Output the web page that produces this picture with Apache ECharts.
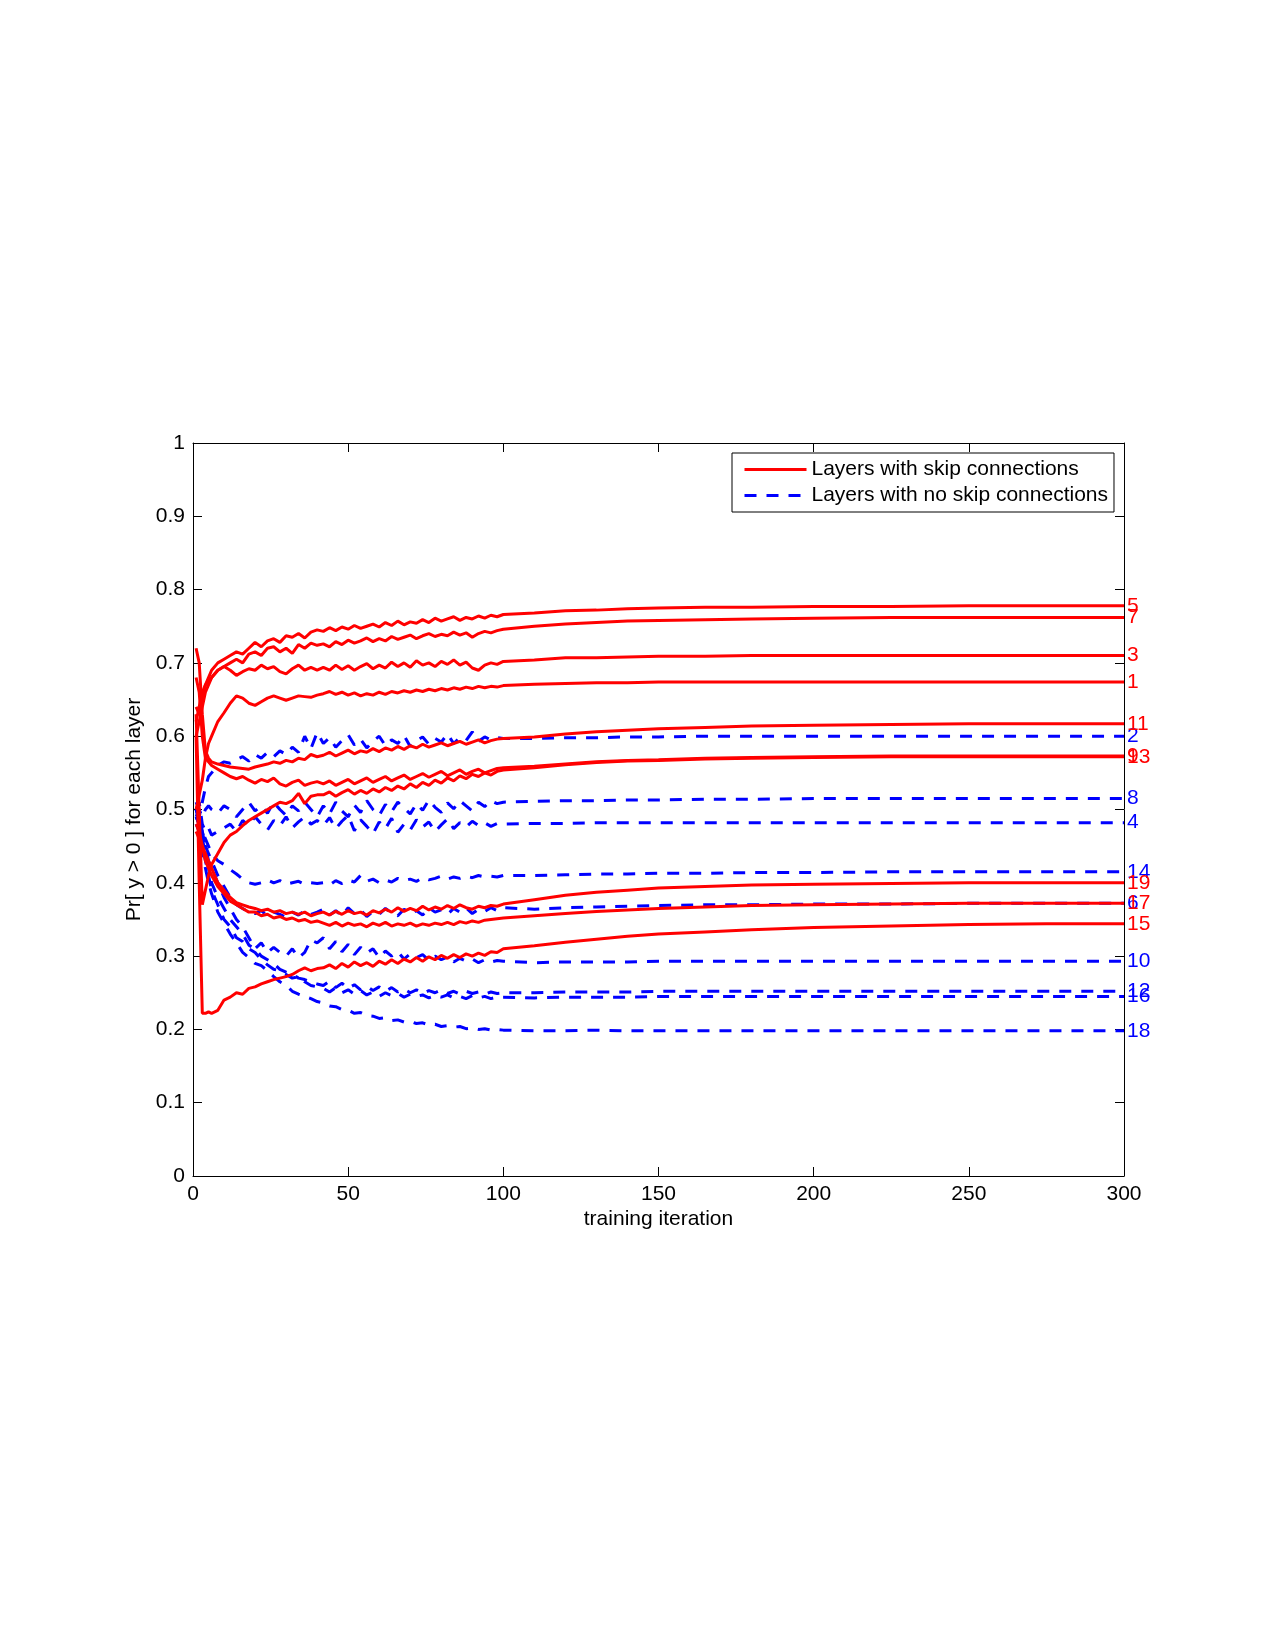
<!DOCTYPE html>
<html lang="en">
<head>
    <meta charset="utf-8">
    <title>Pr[y > 0] for each layer</title>
    <script src="https://cdn.jsdelivr.net/npm/echarts@6/dist/echarts.min.js"></script>
    <style>
        body { margin: 0; background: #fff; }
        #main { width: 1275px; height: 1650px; }
    </style>
</head>
<body>
    <div id="main"></div>

<script type="text/javascript">
    let iters = [1, 2, 3, 4, 5, 6,
        8, 10, 12, 14, 16, 18, 20, 22, 24, 26, 28, 30, 32, 34, 36, 38, 40,
        42, 44, 46, 48, 50, 52, 54, 56, 58, 60, 62, 64, 66, 68, 70,
        72, 74, 76, 78, 80, 82, 84, 86, 88, 90, 92, 94, 96, 98, 100,
        110, 120, 130, 140, 150, 165, 180, 200, 225, 250, 275, 300];

    // layers with skip connections (odd)
    let L1 = [0.50, 0.52, 0.54, 0.57, 0.59, 0.60,
        0.62, 0.632, 0.645, 0.655, 0.652, 0.645, 0.642, 0.647, 0.652, 0.655, 0.652, 0.649, 0.652, 0.655, 0.654, 0.653, 0.656,
        0.658, 0.661, 0.657, 0.66, 0.656, 0.659, 0.655, 0.658, 0.656, 0.66, 0.657, 0.661, 0.659, 0.662, 0.66,
        0.663, 0.661, 0.664, 0.662, 0.665, 0.663, 0.666, 0.664, 0.667, 0.665, 0.668, 0.666, 0.668, 0.667, 0.669,
        0.671, 0.672, 0.673, 0.673, 0.674, 0.674, 0.674, 0.674, 0.674, 0.674, 0.674, 0.674];
    let L3 = [0.60, 0.62, 0.64, 0.66, 0.67, 0.68,
        0.69, 0.695, 0.69, 0.683, 0.688, 0.692, 0.69, 0.697, 0.692, 0.695, 0.688, 0.685, 0.692, 0.697, 0.69, 0.694, 0.69,
        0.694, 0.69, 0.697, 0.691, 0.696, 0.69, 0.695, 0.699, 0.692, 0.697, 0.693, 0.701, 0.695, 0.70, 0.694,
        0.703, 0.697, 0.70, 0.695, 0.702, 0.698, 0.704, 0.697, 0.701, 0.693, 0.69, 0.697, 0.70, 0.698, 0.702,
        0.704, 0.707, 0.707, 0.708, 0.709, 0.709, 0.71, 0.71, 0.71, 0.71, 0.71, 0.71];
    let L5 = [0.64, 0.63, 0.65, 0.67, 0.68, 0.69,
        0.70, 0.705, 0.71, 0.715, 0.712, 0.72, 0.728, 0.722, 0.73, 0.733, 0.728, 0.737, 0.735, 0.74, 0.734, 0.742, 0.745,
        0.743, 0.748, 0.744, 0.749, 0.746, 0.751, 0.747, 0.75, 0.753, 0.749, 0.755, 0.751, 0.757, 0.752, 0.756,
        0.754, 0.759, 0.755, 0.761, 0.757, 0.76, 0.763, 0.758, 0.762, 0.76, 0.764, 0.761, 0.765, 0.763, 0.766,
        0.768, 0.771, 0.772, 0.774, 0.775, 0.776, 0.776, 0.777, 0.777, 0.778, 0.778, 0.778];
    let L7 = [0.62, 0.64, 0.66, 0.67, 0.675, 0.68,
        0.69, 0.695, 0.70, 0.705, 0.70, 0.712, 0.715, 0.71, 0.72, 0.722, 0.715, 0.72, 0.713, 0.725, 0.72, 0.727, 0.724,
        0.726, 0.722, 0.729, 0.725, 0.731, 0.727, 0.73, 0.734, 0.729, 0.733, 0.73, 0.736, 0.732, 0.735, 0.738,
        0.733, 0.737, 0.74, 0.736, 0.739, 0.737, 0.742, 0.738, 0.741, 0.735, 0.74, 0.743, 0.741, 0.744, 0.746,
        0.75, 0.753, 0.755, 0.757, 0.758, 0.759, 0.76, 0.761, 0.762, 0.762, 0.762, 0.762];
    let L9 = [0.68, 0.66, 0.60, 0.57, 0.565, 0.56,
        0.555, 0.55, 0.545, 0.542, 0.545, 0.54, 0.536, 0.541, 0.538, 0.543, 0.535, 0.532, 0.537, 0.54, 0.533, 0.536, 0.538,
        0.535, 0.539, 0.533, 0.537, 0.541, 0.535, 0.539, 0.543, 0.537, 0.541, 0.545, 0.539, 0.543, 0.547, 0.541,
        0.545, 0.549, 0.544, 0.548, 0.552, 0.546, 0.55, 0.554, 0.548, 0.552, 0.555, 0.55, 0.553, 0.556, 0.557,
        0.559, 0.562, 0.565, 0.567, 0.568, 0.57, 0.571, 0.572, 0.573, 0.573, 0.573, 0.573];
    let L11 = [0.72, 0.70, 0.63, 0.58, 0.57, 0.565,
        0.562, 0.56, 0.558, 0.557, 0.556, 0.555, 0.558, 0.56, 0.562, 0.565, 0.563, 0.567, 0.565, 0.57, 0.568, 0.575, 0.572,
        0.574, 0.578, 0.573, 0.577, 0.581, 0.576, 0.58, 0.578, 0.583, 0.579, 0.584, 0.581, 0.586, 0.582, 0.587,
        0.584, 0.589, 0.585, 0.588, 0.591, 0.587, 0.59, 0.593, 0.589, 0.592, 0.595, 0.591, 0.594, 0.596, 0.597,
        0.599, 0.603, 0.606, 0.608, 0.61, 0.612, 0.614, 0.615, 0.616, 0.617, 0.617, 0.617];
    let L13 = [0.63, 0.50, 0.37, 0.39, 0.41, 0.425,
        0.44, 0.455, 0.465, 0.47, 0.478, 0.485, 0.49, 0.495, 0.50, 0.505, 0.51, 0.508, 0.512, 0.522, 0.508, 0.518, 0.52,
        0.52, 0.524, 0.518, 0.523, 0.527, 0.521, 0.526, 0.522, 0.528, 0.524, 0.53, 0.526, 0.532, 0.528, 0.535,
        0.53, 0.537, 0.533, 0.54, 0.536, 0.543, 0.539, 0.546, 0.542, 0.548, 0.545, 0.55, 0.547, 0.552, 0.554,
        0.557, 0.561, 0.564, 0.566, 0.567, 0.569, 0.57, 0.571, 0.572, 0.572, 0.572, 0.572];
    let L15 = [0.60, 0.40, 0.222, 0.222, 0.224, 0.222,
        0.226, 0.24, 0.244, 0.25, 0.248, 0.256, 0.258, 0.262, 0.265, 0.268, 0.27, 0.272, 0.275, 0.28, 0.284, 0.28, 0.283,
        0.284, 0.288, 0.283, 0.29, 0.285, 0.292, 0.287, 0.291, 0.286, 0.293, 0.289, 0.295, 0.29, 0.296, 0.292,
        0.298, 0.293, 0.299, 0.295, 0.301, 0.297, 0.302, 0.298, 0.303, 0.30, 0.304, 0.301, 0.306, 0.305, 0.31,
        0.314, 0.319, 0.323, 0.327, 0.33, 0.333, 0.336, 0.339, 0.341, 0.343, 0.344, 0.344];
    let L17 = [0.47, 0.46, 0.45, 0.43, 0.42, 0.41,
        0.395, 0.385, 0.375, 0.37, 0.365, 0.36, 0.36, 0.355, 0.357, 0.352, 0.354, 0.35, 0.352, 0.348, 0.35, 0.346, 0.348,
        0.345, 0.342, 0.346, 0.341, 0.345, 0.342, 0.344, 0.34, 0.345, 0.342, 0.346, 0.341, 0.344, 0.342, 0.345,
        0.341, 0.344, 0.342, 0.345, 0.343, 0.346, 0.343, 0.347, 0.345, 0.348, 0.346, 0.349, 0.35, 0.351, 0.352,
        0.355, 0.358, 0.361, 0.363, 0.365, 0.367, 0.369, 0.37, 0.371, 0.372, 0.372, 0.372];
    let L19 = [0.48, 0.47, 0.45, 0.44, 0.43, 0.42,
        0.40, 0.39, 0.38, 0.373, 0.37, 0.367, 0.365, 0.362, 0.364, 0.36, 0.362, 0.358, 0.36, 0.357, 0.36, 0.355, 0.358,
        0.36, 0.356, 0.361, 0.357, 0.362, 0.358, 0.36, 0.356, 0.362, 0.359, 0.364, 0.36, 0.366, 0.361, 0.365,
        0.362, 0.368, 0.363, 0.367, 0.364, 0.369, 0.365, 0.37, 0.366, 0.364, 0.368, 0.366, 0.369, 0.368, 0.371,
        0.377, 0.383, 0.387, 0.39, 0.393, 0.395, 0.397, 0.398, 0.399, 0.40, 0.40, 0.40];

    // layers with no skip connections (even)
    let L2 = [0.50, 0.49, 0.51, 0.53, 0.545, 0.55,
        0.56, 0.565, 0.563, 0.568, 0.572, 0.566, 0.575, 0.57, 0.578, 0.572, 0.58, 0.575, 0.585, 0.578, 0.60, 0.583, 0.605,
        0.59, 0.598, 0.585, 0.594, 0.602, 0.588, 0.596, 0.584, 0.593, 0.6, 0.587, 0.595, 0.59, 0.601, 0.586,
        0.594, 0.599, 0.589, 0.597, 0.592, 0.603, 0.59, 0.598, 0.594, 0.606, 0.593, 0.599, 0.595, 0.598, 0.597,
        0.597, 0.598, 0.598, 0.599, 0.599, 0.6, 0.6, 0.6, 0.6, 0.6, 0.6, 0.6];
    let L4 = [0.50, 0.51, 0.48, 0.47, 0.475, 0.465,
        0.47, 0.475, 0.48, 0.47, 0.485, 0.478, 0.49, 0.48, 0.472, 0.485, 0.478, 0.49, 0.475, 0.483, 0.49, 0.48, 0.485,
        0.478, 0.489, 0.474, 0.484, 0.492, 0.471, 0.486, 0.477, 0.467, 0.483, 0.474, 0.488, 0.469, 0.48, 0.472,
        0.486, 0.476, 0.483, 0.47, 0.479, 0.487, 0.474, 0.482, 0.476, 0.484, 0.478, 0.482, 0.477, 0.481, 0.48,
        0.481, 0.481, 0.482, 0.482, 0.482, 0.482, 0.482, 0.482, 0.482, 0.482, 0.482, 0.482];
    let L6 = [0.49, 0.50, 0.47, 0.45, 0.44, 0.43,
        0.41, 0.395, 0.38, 0.37, 0.365, 0.36, 0.358, 0.362, 0.355, 0.36, 0.357, 0.353, 0.36, 0.356, 0.362, 0.357, 0.36,
        0.364, 0.356, 0.362, 0.355, 0.366, 0.358, 0.363, 0.354, 0.361, 0.357, 0.365, 0.359, 0.355, 0.364, 0.358,
        0.362, 0.356, 0.366, 0.36, 0.363, 0.357, 0.365, 0.36, 0.366, 0.358, 0.364, 0.361, 0.366, 0.362, 0.366,
        0.364, 0.366, 0.367, 0.368, 0.369, 0.37, 0.37, 0.371, 0.371, 0.372, 0.372, 0.372];
    let L8 = [0.51, 0.50, 0.49, 0.50, 0.505, 0.50,
        0.495, 0.505, 0.50, 0.49, 0.50, 0.51, 0.498, 0.505, 0.495, 0.51, 0.50, 0.492, 0.505, 0.498, 0.51, 0.50, 0.49,
        0.505, 0.494, 0.51, 0.498, 0.49, 0.506, 0.496, 0.512, 0.5, 0.492, 0.507, 0.497, 0.51, 0.502, 0.494,
        0.508, 0.499, 0.513, 0.503, 0.496, 0.509, 0.501, 0.512, 0.505, 0.498, 0.51, 0.504, 0.512, 0.508, 0.51,
        0.511, 0.512, 0.512, 0.513, 0.513, 0.514, 0.514, 0.515, 0.515, 0.515, 0.515, 0.515];
    let L10 = [0.50, 0.49, 0.47, 0.45, 0.43, 0.42,
        0.40, 0.38, 0.365, 0.35, 0.34, 0.325, 0.31, 0.318, 0.305, 0.312, 0.305, 0.30, 0.31, 0.298, 0.305, 0.322, 0.318,
        0.325, 0.31, 0.32, 0.306, 0.316, 0.302, 0.312, 0.304, 0.31, 0.298, 0.307, 0.3, 0.306, 0.296, 0.303,
        0.298, 0.302, 0.294, 0.3, 0.295, 0.299, 0.292, 0.297, 0.293, 0.296, 0.291, 0.295, 0.292, 0.294, 0.293,
        0.291, 0.292, 0.292, 0.292, 0.293, 0.293, 0.293, 0.293, 0.293, 0.293, 0.293, 0.293];
    let L12 = [0.49, 0.48, 0.46, 0.44, 0.42, 0.40,
        0.38, 0.365, 0.35, 0.34, 0.33, 0.315, 0.31, 0.30, 0.295, 0.29, 0.282, 0.278, 0.275, 0.27, 0.268, 0.265, 0.262,
        0.26, 0.266, 0.257, 0.263, 0.256, 0.261, 0.254, 0.259, 0.253, 0.258, 0.252, 0.257, 0.251, 0.255, 0.25,
        0.254, 0.249, 0.253, 0.25, 0.254, 0.249, 0.252, 0.248, 0.252, 0.249, 0.251, 0.248, 0.251, 0.249, 0.25,
        0.25, 0.251, 0.251, 0.251, 0.252, 0.252, 0.252, 0.252, 0.252, 0.252, 0.252, 0.252];
    let L14 = [0.49, 0.48, 0.47, 0.46, 0.45, 0.44,
        0.43, 0.425, 0.418, 0.412, 0.405, 0.40, 0.398, 0.40, 0.404, 0.40, 0.403, 0.398, 0.40, 0.402, 0.398, 0.40, 0.399,
        0.40, 0.397, 0.403, 0.399, 0.404, 0.401, 0.41, 0.402, 0.405, 0.40, 0.404, 0.401, 0.406, 0.403, 0.405,
        0.402, 0.407, 0.404, 0.406, 0.409, 0.405, 0.408, 0.406, 0.409, 0.407, 0.41, 0.408, 0.409, 0.408, 0.41,
        0.41, 0.411, 0.412, 0.412, 0.413, 0.413, 0.414, 0.414, 0.415, 0.415, 0.415, 0.415];
    let L16 = [0.50, 0.48, 0.45, 0.43, 0.41, 0.39,
        0.37, 0.35, 0.34, 0.325, 0.32, 0.31, 0.305, 0.295, 0.288, 0.282, 0.28, 0.275, 0.27, 0.272, 0.265, 0.26, 0.258,
        0.256, 0.251, 0.257, 0.25, 0.254, 0.248, 0.253, 0.247, 0.251, 0.245, 0.25, 0.246, 0.249, 0.244, 0.248,
        0.245, 0.247, 0.243, 0.246, 0.244, 0.247, 0.243, 0.245, 0.242, 0.246, 0.243, 0.245, 0.242, 0.244, 0.244,
        0.243, 0.244, 0.244, 0.244, 0.245, 0.245, 0.245, 0.245, 0.245, 0.245, 0.245, 0.245];
    let L18 = [0.48, 0.47, 0.44, 0.42, 0.40, 0.385,
        0.36, 0.345, 0.33, 0.318, 0.305, 0.298, 0.29, 0.287, 0.28, 0.272, 0.265, 0.26, 0.252, 0.248, 0.245, 0.242, 0.238,
        0.236, 0.232, 0.231, 0.227, 0.226, 0.222, 0.223, 0.219, 0.218, 0.215, 0.216, 0.212, 0.213, 0.21, 0.211,
        0.208, 0.209, 0.206, 0.207, 0.204, 0.205, 0.203, 0.204, 0.201, 0.202, 0.2, 0.201, 0.199, 0.2, 0.199,
        0.198, 0.198, 0.199, 0.198, 0.198, 0.198, 0.198, 0.198, 0.198, 0.198, 0.198, 0.198];

    let layers = [L1, L2, L3, L4, L5, L6, L7, L8, L9, L10, L11, L12, L13, L14, L15, L16, L17, L18, L19];
    let skipName = 'Layers with skip connections';
    let noSkipName = 'Layers with no skip connections';
    let yTicks = [0, 0.1, 0.2, 0.3, 0.4, 0.5, 0.6, 0.7, 0.8, 0.9, 1];
    let xTicks = [0, 50, 100, 150, 200, 250, 300];

    let font = 'Liberation Sans, Arial, Helvetica, sans-serif';

    let series = [];
    layers.forEach((vals, i) => {
        let num = i + 1;
        let skip = num % 2 === 1;
        let color = skip ? '#ff0000' : '#0000ff';
        series.push({
            name: skip ? skipName : noSkipName,
            type: 'line',
            xAxisIndex: 0,
            yAxisIndex: 0,
            symbol: 'none',
            data: iters.map((x, k) => [x, vals[k]]),
            lineStyle: { color: color, width: 3, type: skip ? 'solid' : [12, 10] },
            itemStyle: { color: color },
            endLabel: {
                show: true,
                formatter: String(num),
                color: color,
                fontFamily: font,
                fontSize: 21,
                distance: 3
            },
            z: skip ? 3 : 2
        });
    });

    let axisLine = { show: true, onZero: false, lineStyle: { color: '#000', width: 1 } };
    let tick = { show: true, inside: true, length: 9, lineStyle: { color: '#000' } };
    let labelStyle = { color: '#000', fontFamily: font, fontSize: 21 };

    let chart = echarts.init(document.getElementById('main'));

    let option = {
        animation: false,
        backgroundColor: '#fff',
        grid: { left: 193, right: 151, top: 443, bottom: 474 },
        legend: {
            data: [skipName, noSkipName],
            orient: 'vertical',
            left: 732,
            top: 453,
            itemWidth: 62,
            itemHeight: 14,
            itemGap: 5,
            padding: [6, 6, 6, 11],
            borderColor: '#000',
            borderWidth: 1,
            backgroundColor: '#fff',
            selectedMode: false,
            itemStyle: { opacity: 0 },
            lineStyle: { width: 3 },
            textStyle: { color: '#000', fontFamily: font, fontSize: 21 }
        },
        xAxis: [{
            type: 'value',
            min: xTicks[0],
            max: xTicks[xTicks.length - 1],
            interval: 50,
            position: 'bottom',
            axisLine: axisLine,
            axisTick: tick,
            axisLabel: Object.assign({ margin: 8 }, labelStyle),
            splitLine: { show: false },
            name: 'training iteration',
            nameLocation: 'middle',
            nameGap: 33,
            nameTextStyle: labelStyle
        }, {
            type: 'value',
            min: 0,
            max: 300,
            interval: 50,
            position: 'top',
            axisLine: axisLine,
            axisTick: tick,
            axisLabel: { show: false },
            splitLine: { show: false }
        }],
        yAxis: [{
            type: 'value',
            min: yTicks[0],
            max: yTicks[yTicks.length - 1],
            interval: 0.1,
            position: 'left',
            axisLine: axisLine,
            axisTick: tick,
            axisLabel: Object.assign({ margin: 8 }, labelStyle),
            splitLine: { show: false },
            name: 'Pr[ y > 0 ] for each layer',
            nameLocation: 'middle',
            nameGap: 46,
            nameTextStyle: labelStyle
        }, {
            type: 'value',
            min: 0,
            max: 1,
            interval: 0.1,
            position: 'right',
            axisLine: axisLine,
            axisTick: tick,
            axisLabel: { show: false },
            splitLine: { show: false }
        }],
        series: series
    };

    chart.setOption(option);
</script>
</body>
</html>
